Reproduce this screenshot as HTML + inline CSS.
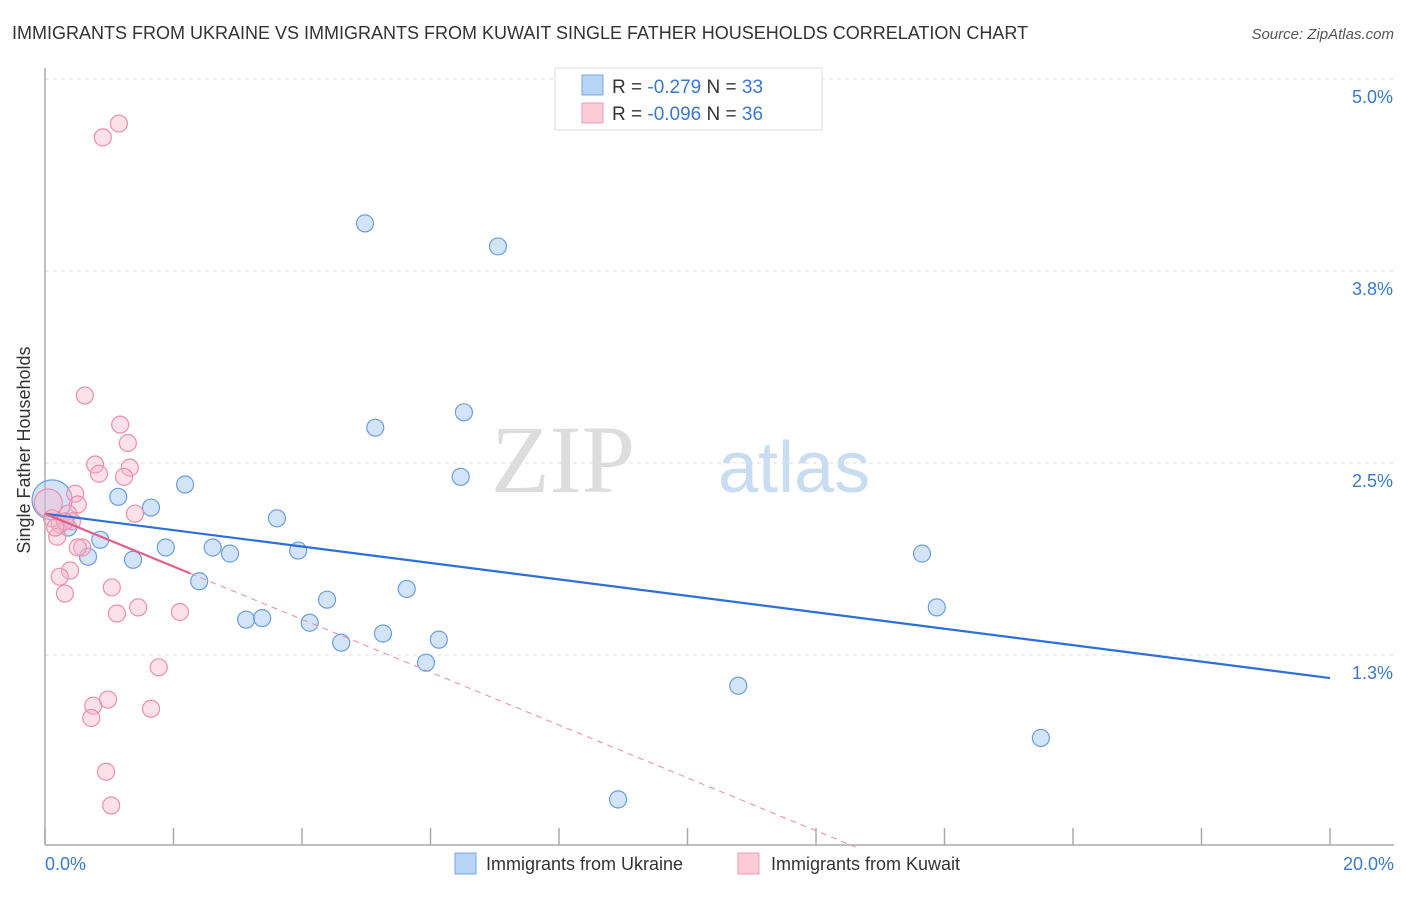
<!DOCTYPE html>
<html><head><meta charset="utf-8"><style>
body{margin:0;background:#fff;font-family:"Liberation Sans",sans-serif;}
</style></head><body>
<svg width="1406" height="892" viewBox="0 0 1406 892" xmlns="http://www.w3.org/2000/svg">
<text x="12" y="39" font-size="18" fill="#333">IMMIGRANTS FROM UKRAINE VS IMMIGRANTS FROM KUWAIT SINGLE FATHER HOUSEHOLDS CORRELATION CHART</text>
<text x="1394" y="39" font-size="15" fill="#555" font-style="italic" text-anchor="end">Source: ZipAtlas.com</text>
<text x="635" y="492" font-size="96" fill="#ddd" font-family="Liberation Serif,serif" text-anchor="end">ZIP</text>
<text x="718" y="492" font-size="72" fill="#c8dcf2">atlas</text>
<g id="grid"></g>
<line x1="45" y1="68" x2="45" y2="845" stroke="#aaa" stroke-width="1.5"/>
<line x1="45" y1="845" x2="1394" y2="845" stroke="#aaa" stroke-width="1.5"/>
<g id="ticks"></g>
<text x="36" y="456" font-size="18" fill="#333" text-anchor="middle" transform="rotate(-90 30 456)">Single Father Households</text>
<text x="45" y="870" font-size="18" fill="#3a78d0">0.0%</text>
<text x="1394" y="870" font-size="18" fill="#3a78d0" text-anchor="end">20.0%</text>
<g id="pts"></g>
<g id="lines"></g>
<g>
<rect x="555" y="68" width="267" height="62" fill="#fff" stroke="#ddd"/>
<rect x="582" y="75" width="21" height="20" fill="#b8d3f5" stroke="#7aa7e0"/>
<rect x="582" y="103" width="21" height="20" fill="#fbcbd8" stroke="#f09ab4"/>
<text x="612" y="93" font-size="19" fill="#333">R = <tspan fill="#3a78d0">-0.279</tspan>   N = <tspan fill="#3a78d0">33</tspan></text>
<text x="612" y="120" font-size="19" fill="#333">R = <tspan fill="#3a78d0">-0.096</tspan>   N = <tspan fill="#3a78d0">36</tspan></text>
</g>
<g>
<rect x="455" y="853" width="21" height="21" fill="#b8d3f5" stroke="#7aa7e0"/>
<text x="486" y="870" font-size="18" fill="#333">Immigrants from Ukraine</text>
<rect x="738" y="853" width="21" height="21" fill="#fbcbd8" stroke="#f09ab4"/>
<text x="771" y="870" font-size="18" fill="#333">Immigrants from Kuwait</text>
</g>
</svg>
<script>
const yTicks=[5.0,3.75,2.5,1.25];
const yTickLabels=["5.0%","3.8%","2.5%","1.3%"];
const xTicks=[0,2,4,6,8,10,12,14,16,18,20];
const ukraineX=[0.11,0.36,0.67,0.86,1.14,1.37,1.65,1.88,2.18,2.40,2.61,2.88,3.13,3.38,3.61,3.94,4.12,4.39,4.61,4.98,5.14,5.26,5.63,5.93,6.13,6.47,6.52,7.05,8.92,10.79,13.65,13.88,15.50];
const ukraineY=[2.26,2.08,1.89,2.00,2.28,1.87,2.21,1.95,2.36,1.73,1.95,1.91,1.48,1.49,2.14,1.93,1.46,1.61,1.33,4.06,2.73,1.39,1.68,1.20,1.35,2.41,2.83,3.91,0.31,1.05,1.91,1.56,0.71];
const kuwaitX=[0.05,0.62,1.17,1.29,0.78,1.32,1.23,0.84,0.47,0.51,0.36,0.23,0.42,0.19,0.58,0.51,0.39,0.23,0.31,1.04,1.40,1.45,1.12,2.10,1.77,0.75,0.98,0.72,1.65,0.95,1.03,0.90,1.15,0.11,0.31,0.16];
const kuwaitY=[2.24,2.94,2.75,2.63,2.49,2.47,2.41,2.43,2.30,2.23,2.17,2.10,2.12,2.02,1.95,1.95,1.80,1.76,1.65,1.69,2.17,1.56,1.52,1.53,1.17,0.92,0.96,0.84,0.90,0.49,0.27,4.62,4.71,2.14,2.12,2.08];
const ukraineTrend=[2.17,1.10];
const kuwaitTrend=[2.17,-0.172];
const NS="http://www.w3.org/2000/svg";
const X=v=>45+v*64.25, Y=v=>79+(5-v)*153.6;
function mk(t,a,p){const e=document.createElementNS(NS,t);for(const k in a)e.setAttribute(k,a[k]);p.appendChild(e);return e;}
const grid=document.getElementById('grid');
yTicks.forEach((t,i)=>{
 const l=mk('line',{x1:45,x2:1394,y1:Y(t),y2:Y(t),stroke:'#ddd','stroke-dasharray':'4,4'},grid);
 
 
 const tx=mk('text',{x:1393,y:Y(t)+24,'font-size':18,fill:'#3a78d0','text-anchor':'end'},grid);
 tx.textContent=yTickLabels[i];
 
 
});
const tk=document.getElementById('ticks');
xTicks.forEach(t=>{
 const l=mk('line',{x1:X(t),x2:X(t),y1:828,y2:845,stroke:'#aaa','stroke-width':1.5},tk);
 
 
});
const pts=document.getElementById('pts');
ukraineX.forEach((x,i)=>{
 const c=mk('circle',{cx:X(x),cy:Y(ukraineY[i]),r:i==0?20:8.5,fill:'rgba(160,195,240,0.45)',stroke:'#6a9ee0','stroke-width':1.2},pts);
 
 
});
kuwaitX.forEach((x,i)=>{
 const c=mk('circle',{cx:X(x),cy:Y(kuwaitY[i]),r:i==0?14:8.5,fill:'rgba(248,180,200,0.4)',stroke:'#ec8fac','stroke-width':1.2},pts);
 
 
});
const ln=document.getElementById('lines');
let a=mk('line',{x1:X(0),y1:Y(ukraineTrend[0]),x2:X(20),y2:Y(ukraineTrend[1]),stroke:'#2d6fd6','stroke-width':2.2},ln);


const kEnd=-kuwaitTrend[0]/kuwaitTrend[1];
let b=mk('line',{x1:X(2.26),y1:Y(kuwaitTrend[0]+kuwaitTrend[1]*2.26),x2:X(kEnd),y2:Y(0),stroke:'#e88aa8','stroke-width':1,'stroke-dasharray':'6,5'},ln);


let c=mk('line',{x1:X(0),y1:Y(kuwaitTrend[0]),x2:X(2.26),y2:Y(kuwaitTrend[0]+kuwaitTrend[1]*2.26),stroke:'#e0608a','stroke-width':2.2},ln);


</script>
</body></html>
